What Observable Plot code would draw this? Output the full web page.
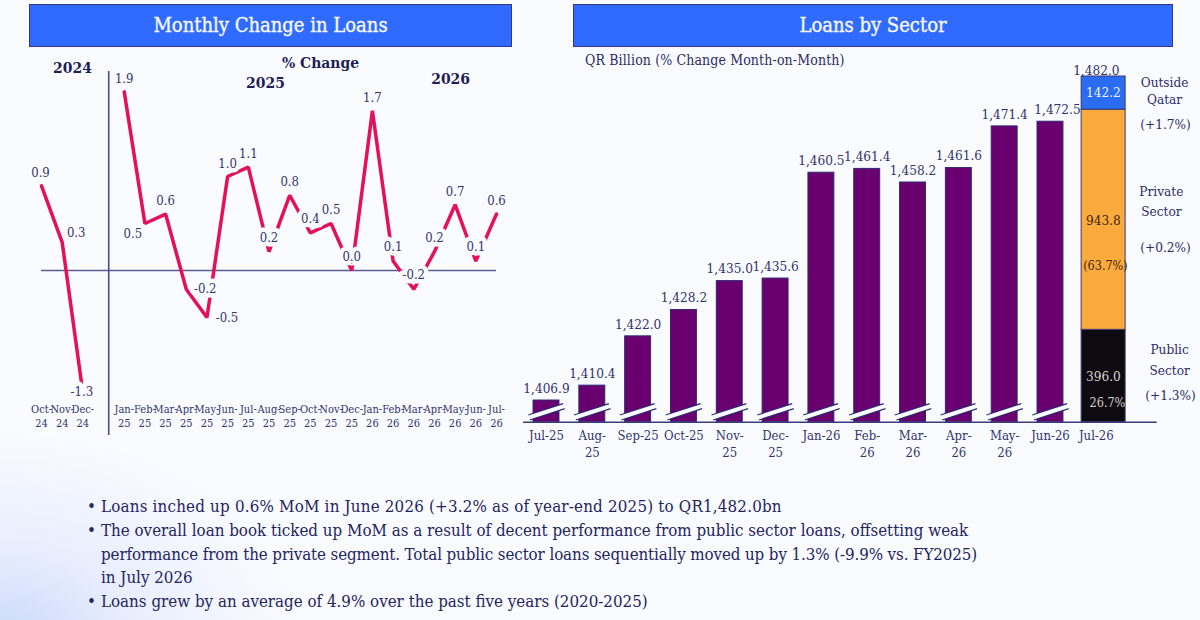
<!DOCTYPE html>
<html><head><meta charset="utf-8">
<script src="https://cdn.jsdelivr.net/npm/d3@7"></script>
<script src="https://cdn.jsdelivr.net/npm/@observablehq/plot@0.6"></script>
<style>
html,body{margin:0;padding:0;width:1200px;height:620px;overflow:hidden}
body{position:relative;background:radial-gradient(ellipse 300px 210px at 0 640px,#c9d9fb 0%,#e8eefd 45%,rgba(250,251,255,0) 100%),#fafbff;font-family:"DejaVu Serif Condensed","DejaVu Serif",serif;color:#24245e}
.hdr{position:absolute;top:4px;height:41px;line-height:41px;background:#2f6bff;border:1px solid #35358a;color:#f6f9ff;text-align:center;font-size:20px;box-sizing:content-box;-webkit-text-stroke:0.35px #f6f9ff}
.sub{position:absolute;left:585px;top:52px;font-size:14px;color:#2c2c62;white-space:nowrap;letter-spacing:0.12px}
.chart{position:absolute;top:50px}
.chart svg{background:transparent;overflow:visible}
ul{position:absolute;left:101px;top:495px;margin:0;padding:0;list-style:none;font-size:16.8px;line-height:23.8px;color:#24245e;white-space:nowrap}
li{position:relative}
li.b::before{content:"•";position:absolute;left:-14px}
</style></head><body>
<div class="hdr" style="left:29px;width:481px">Monthly Change in Loans</div>
<div class="hdr" style="left:573px;width:598px">Loans by Sector</div>
<div class="sub">QR Billion (% Change Month-on-Month)</div>
<div id="left" class="chart" style="left:0"></div>
<div id="bars" class="chart" style="left:510px"></div>
<div id="stack" class="chart" style="left:510px"></div>
<ul>
<li class="b" style="letter-spacing:0.2px">Loans inched up 0.6% MoM in June 2026 (+3.2% as of year-end 2025) to QR1,482.0bn</li>
<li class="b">The overall loan book ticked up MoM as a result of decent performance from public sector loans, offsetting weak</li>
<li style="letter-spacing:-0.1px">performance from the private segment. Total public sector loans sequentially moved up by 1.3% (-9.9% vs. FY2025)</li>
<li>in July 2026</li>
<li class="b">Loans grew by an average of 4.9% over the past five years (2020-2025)</li>
</ul>
<script>
// ---------- Monthly change ----------
const changeMonths = ["Oct-\n24","Nov-\n24","Dec-\n24","Jan-\n25","Feb-\n25","Mar-\n25","Apr-\n25","May-\n25","Jun-\n25","Jul-\n25","Aug-\n25","Sep-\n25","Oct-\n25","Nov-\n25","Dec-\n25","Jan-\n26","Feb-\n26","Mar-\n26","Apr-\n26","May-\n26","Jun-\n26","Jul-\n26"];
const changeSlots = [0,1,2,4,5,6,7,8,9,10,11,12,13,14,15,16,17,18,19,20,21,22];
const changeValues = [0.9,0.3,-1.3,1.9,0.5,0.6,-0.2,-0.5,1.0,1.1,0.2,0.8,0.4,0.5,0.0,1.7,0.1,-0.2,0.2,0.7,0.1,0.6];
const changeRuns = changeSlots.map(s => s < 3 ? "a" : "b");
const labelDx = [-1,14,-1,0,-12,0,19,20,0,0,0,0,0,0,0,0,0,0,0,0,0,0];
const labelDy = [-13,-9,-1,-13,10,-13,0,0,-13,-13,-14,-13,-14,-14,-14,-13,-14,-14,-14,-13,-14,-13];
const yearNotes = [["2024",1.5,2.15],["2025",10.83,1.99],["2026",19.78,2.04],["% Change",13.49,2.21]];

// ---------- Loans by sector ----------
const loanMonths = ["Jul-25","Aug-\n25","Sep-25","Oct-25","Nov-\n25","Dec-\n25","Jan-26","Feb-\n26","Mar-\n26","Apr-\n26","May-\n26","Jun-26","Jul-26"];
const loanValues = [1406.9,1410.4,1422.0,1428.2,1435.0,1435.6,1460.5,1461.4,1458.2,1461.6,1471.4,1472.5];
const sectorNames = ["Public Sector","Private Sector","Outside Qatar"];
const sectorValues = [396.0,943.8,142.2];
const sectorShare = ["26.7%","(63.7%)",""];
const sectorChange = ["(+1.3%)","(+0.2%)","(+1.7%)"];
const sectorColors = ["#0e0b10","#fbaa3e","#2a6cf2"];
const totalLabel = "1,482.0";

const BG = "#fafbff";
const FONT = '"DejaVu Serif Condensed","DejaVu Serif",serif';
const rows = changeValues.map((v,k)=>({v,s:changeSlots[k],run:changeRuns[k],dx:labelDx[k],dy:labelDy[k]}));

document.getElementById("left").append(Plot.plot({
  width:520,height:410,marginTop:0,marginLeft:0,marginRight:0,marginBottom:60,style:{fontFamily:FONT,background:"transparent"},
  x:{type:"linear",domain:[0,22],range:[41,496]},
  y:{domain:[-1.383,2.34],range:[350,0],axis:null},
  marks:[
    Plot.axisX({ticks:changeSlots,tickFormat:i=>changeMonths[changeSlots.indexOf(i)],tickSize:0,tickPadding:3,fontSize:11,fill:"#33336a",label:null,lineHeight:1.25,anchor:"bottom"}),
    Plot.ruleY([0],{x1:0,x2:22,stroke:"#5b5b8f",strokeWidth:1.4}),
    Plot.ruleX([3.25],{y1:2.117,y2:-1.755,stroke:"#4c4c86",strokeWidth:1.6}),
    Plot.line(rows,{x:"s",y:"v",z:"run",stroke:"#e4105a",strokeWidth:3.5,curve:"linear",strokeLinejoin:"miter"}),
    ...rows.map(r=>Plot.text([r],{x:"s",y:"v",text:d=>d.v.toFixed(1),dx:r.dx,dy:r.dy,fontSize:13,fill:"#33336a",stroke:BG,strokeWidth:9})),
    Plot.text(yearNotes,{x:d=>d[1],y:d=>d[2],text:d=>d[0],fontSize:15.5,fontWeight:"bold",fill:"#1f1f55"})
  ]
}));

const bars = loanValues.map((v,i)=>({v,i}));
document.getElementById("bars").append(Plot.plot({
  width:690,height:410,marginTop:0,marginLeft:0,marginRight:0,marginBottom:38.3,style:{fontFamily:FONT,background:"transparent"},
  x:{type:"linear",domain:[0,12],range:[36,585.8]},
  y:{domain:[1401.8,1483.0],range:[371.7,26.6],axis:null},
  marks:[
    Plot.axisX({ticks:d3.range(13),tickFormat:i=>loanMonths[i],tickSize:0,tickPadding:6,fontSize:13,fill:"#33336a",label:null,lineHeight:1.3,anchor:"bottom"}),
    Plot.rectY(bars,{x1:d=>d.i-0.283,x2:d=>d.i+0.283,y1:1401.8,y2:"v",fill:"#6a006f",stroke:"#2d2a70",strokeWidth:1}),
    Plot.link(bars,{x1:d=>d.i-0.38,x2:d=>d.i+0.38,y1:1402.9,y2:1405.6,stroke:"#2d2a70",strokeWidth:6.5}),
    Plot.link(bars,{x1:d=>d.i-0.4,x2:d=>d.i+0.4,y1:1402.85,y2:1405.65,stroke:"#fbfcff",strokeWidth:4}),
    Plot.text(bars.slice(0,11),{x:"i",y:"v",text:d=>d3.format(",.1f")(d.v),dy:-12,fontSize:13.5,fill:"#33336a"}),
    Plot.text(bars.slice(11),{x:"i",y:"v",text:d=>d3.format(",.1f")(d.v),dy:-12,dx:7,fontSize:13.5,fill:"#33336a"}),
    Plot.ruleY([1401.8],{x1:-0.5,x2:13.33,stroke:"#3c3c78",strokeWidth:1.4})
  ]
}));

const stackRows = sectorNames.map((n,k)=>({n,v:sectorValues[k],c:sectorColors[k]}));
let acc=0; const stacked = stackRows.map(d=>{const r={...d,y1:acc,y2:acc+d.v};acc+=d.v;return r;});
const mid = d=>(d.y1+d.y2)/2;
const nameX=[13.6,13.42,13.49], nameDy=[-18,-20,-3], nameLH=[1.5,1.5,1.3], chgX=[13.62,13.51,13.51], chgDy=[20,28,32];
document.getElementById("stack").append(Plot.plot({
  width:690,height:410,marginTop:0,marginLeft:0,marginRight:0,marginBottom:38.3,style:{fontFamily:FONT,background:"transparent"},
  x:{type:"linear",domain:[0,12],range:[36,585.8],axis:null},
  y:{domain:[0,1482],range:[371.7,26],axis:null},
  color:{type:"identity"},
  marks:[
    Plot.rectY(stacked,{x1:11.68,x2:12.64,y1:"y1",y2:"y2",fill:"c",stroke:"#3a3a70",strokeWidth:1}),
    Plot.text([acc],{x:12,y:d=>d,text:()=>totalLabel,dy:-6,fontSize:13.5,fill:"#33336a"}),
    Plot.text([stacked[2]],{x:12.156,y:mid,text:d=>d.v.toFixed(1),fontSize:13.5,fill:"#eaf1ff"}),
    Plot.text([stacked[1]],{x:12.156,y:mid,text:d=>d.v.toFixed(1),dy:1,fontSize:13.5,fill:"#40250f"}),
    Plot.text([stacked[1]],{x:12.156,y:mid,text:()=>sectorShare[1],dy:46,dx:2,fontSize:12.5,fill:"#40250f"}),
    Plot.text([stacked[0]],{x:12.156,y:mid,text:d=>d.v.toFixed(1),dy:1,fontSize:13.5,fill:"#d9d5d0"}),
    Plot.text([stacked[0]],{x:12.156,y:mid,text:()=>sectorShare[0],dy:27,dx:4,fontSize:12.5,fill:"#d9d5d0"}),
    ...stacked.map((d,k)=>Plot.text([d],{x:nameX[k],y:mid,text:d=>d.n.replace(" ","\n"),lineHeight:nameLH[k],dy:nameDy[k],fontSize:13.5,fill:"#2c2c66"})),
    ...stacked.map((d,k)=>Plot.text([d],{x:chgX[k],y:mid,text:()=>sectorChange[k],dy:chgDy[k],fontSize:13.5,fill:"#2c2c66"}))
  ]
}));
</script>
</body></html>
